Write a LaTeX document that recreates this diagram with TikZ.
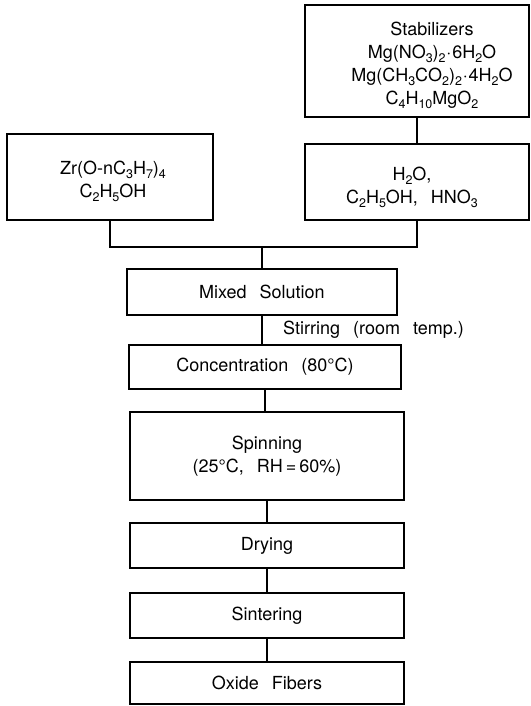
\documentclass[tikz,border=0pt]{standalone}
\usepackage{fontspec}
\setmainfont{TeX Gyre Heros}[WordSpace=2.6]
\newcommand\lo[1]{\raisebox{-0.4ex}{\fontsize{12.5}{12.5}\selectfont #1}}
\newcommand\md{\kern0.8pt·\kern0.8pt}
\begin{document}
\begin{tikzpicture}[x=1pt,y=-1pt,
  font=\fontsize{18}{23}\selectfont,
  box/.style={draw, line width=2pt, rectangle, inner sep=0pt, align=center},
  txt/.style={inner sep=0pt, align=center},
  link/.style={line width=2pt}]
\useasboundingbox (0,0) rectangle (530,706);

% top right stabilizers
\node[box, minimum width=224, minimum height=112] (stab) at (417,61) {};
\node[txt] (stabt) at (432,65) {Stabilizers\\Mg(NO\lo{3})\lo{2}\md6H\lo{2}O\\Mg(CH\lo{3}CO\lo{2})\lo{2}\md4H\lo{2}O\\C\lo{4}H\lo{10}MgO\lo{2}};

\node[box, minimum width=224, minimum height=76] (h2o) at (417,182) {};
\node[txt] (h2ot) at (412,187) {H\lo{2}O,\\C\lo{2}H\lo{5}OH, HNO\lo{3}};

\node[box, minimum width=206, minimum height=86] (zr) at (110,177) {};
\node[txt] (zrt) at (113,181) {Zr(O-nC\lo{3}H\lo{7})\lo{4}\\C\lo{2}H\lo{5}OH};

\coordinate (j) at (262,247);

\node[box, minimum width=270, minimum height=46] (mix) at (262,292) {Mixed Solution};
\node[box, minimum width=272, minimum height=44] (conc) at (265,367) {Concentration (80°C)};
\node[box, minimum width=274, minimum height=88] (spin) at (267,456) {Spinning\\(25°C, RH\,=\,60\%)};
\node[box, minimum width=274, minimum height=45] (dry) at (267,545.5) {Drying};
\node[box, minimum width=274, minimum height=45] (sint) at (267,615.5) {Sintering};
\node[box, minimum width=274, minimum height=42] (oxide) at (267,683) {Oxide Fibers};

\node[txt, anchor=west] (stir) at (283,330) {Stirring (room temp.)};

\draw[link] (stab.south) -- (h2o.north);
\draw[link] (zr.south) |- (j) -| (h2o.south);
\draw[link] (j) -- (mix.north);
\draw[link] (mix.south) -- (mix.south |- conc.north);
\draw[link] (conc.south) -- (conc.south |- spin.north);
\draw[link] (spin.south) -- (spin.south |- dry.north);
\draw[link] (dry.south) -- (dry.south |- sint.north);
\draw[link] (sint.south) -- (sint.south |- oxide.north);
\end{tikzpicture}
\end{document}
